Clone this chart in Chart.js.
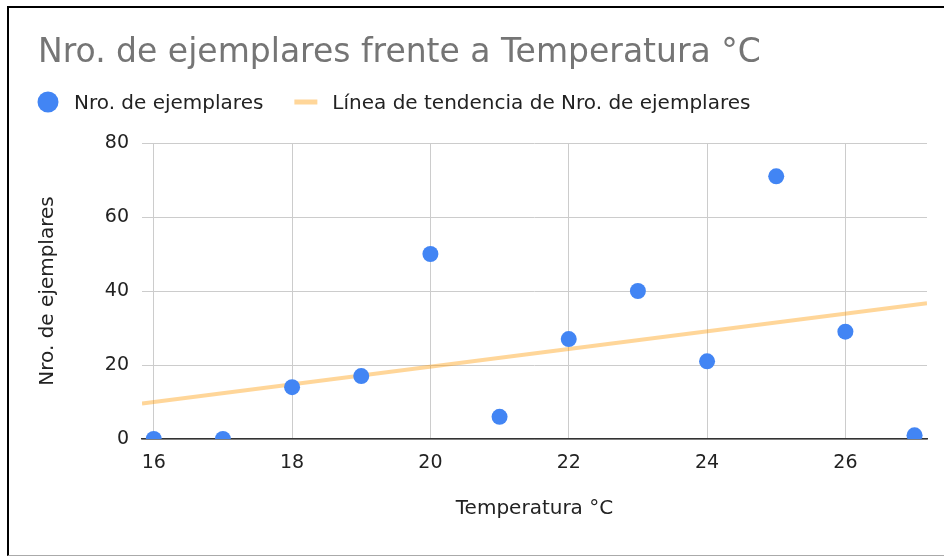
<!DOCTYPE html>
<html>
<head>
<meta charset="utf-8">
<script src="https://cdn.jsdelivr.net/npm/chart.js@4.4.1/dist/chart.umd.min.js"></script>
<style>
  html, body { margin: 0; padding: 0; background: #fff; }
  #wrap { position: relative; width: 944px; height: 556px; overflow: hidden; }
  #frame { position: absolute; left: 7px; top: 6px; width: 950px; height: 547px;
           border-left: 2px solid #000; border-top: 2px solid #000; border-bottom: 1px solid #aaa; }
  #c { position: absolute; left: 0; top: 0; }
</style>
</head>
<body>
<div id="wrap">
  <div id="frame"></div>
  <canvas id="c" width="944" height="556"></canvas>
</div>
<script>
// ---- data ----
const chartTitle = 'Nro. de ejemplares frente a Temperatura °C';
const seriesLabel = 'Nro. de ejemplares';
const trendLabel = 'Línea de tendencia de Nro. de ejemplares';
const xAxisTitle = 'Temperatura °C';
const yAxisTitle = 'Nro. de ejemplares';
const temperatures = [16, 17, 18, 19, 20, 21, 22, 23, 24, 25, 26, 27];
const specimens    = [0, 0, 14, 17, 50, 6, 27, 40, 21, 71, 29, 1];
const trendX = [15.83, 27.18];
const trendY = [9.6, 36.7];
const xTicks = [16, 18, 20, 22, 24, 26];
const yTicks = [0, 20, 40, 60, 80];

const seriesColor = '#4285F4';
const trendColor = 'rgba(255,153,0,0.4)';
const FONT = '"DejaVu Sans", "Liberation Sans", Arial, sans-serif';

const titleLegendPlugin = {
  id: 'titleLegend',
  afterDraw(chart) {
    const ctx = chart.ctx;
    ctx.save();
    ctx.textBaseline = 'alphabetic';
    ctx.textAlign = 'left';
    ctx.font = '33px ' + FONT;
    ctx.fillStyle = '#757575';
    ctx.fillText(chartTitle, 38, 62);

    ctx.font = '20px ' + FONT;
    const cy = 102;
    ctx.fillStyle = seriesColor;
    ctx.beginPath();
    ctx.arc(48, cy, 10.5, 0, Math.PI * 2);
    ctx.fill();
    ctx.fillStyle = '#222';
    let x = 74;
    ctx.fillText(seriesLabel, x, 109);
    x += ctx.measureText(seriesLabel).width + 31;
    ctx.strokeStyle = trendColor;
    ctx.lineWidth = 5;
    ctx.beginPath();
    ctx.moveTo(x, cy);
    ctx.lineTo(x + 23, cy);
    ctx.stroke();
    x += 23 + 15;
    ctx.fillStyle = '#222';
    ctx.fillText(trendLabel, x, 109);
    ctx.restore();
  }
};

new Chart(document.getElementById('c'), {
  type: 'scatter',
  data: {
    datasets: [
      {
        label: seriesLabel,
        data: temperatures.map((t, i) => ({ x: t, y: specimens[i] })),
        backgroundColor: seriesColor,
        borderColor: seriesColor,
        borderWidth: 0,
        pointRadius: 8,
        pointHoverRadius: 8,
        clip: 0
      },
      {
        type: 'line',
        label: trendLabel,
        data: trendX.map((t, i) => ({ x: t, y: trendY[i] })),
        borderColor: trendColor,
        borderWidth: 4,
        pointRadius: 0,
        fill: false,
        showLine: true,
        clip: 0
      }
    ]
  },
  options: {
    responsive: false,
    animation: false,
    devicePixelRatio: 1,
    layout: { padding: { left: 30, right: 17, top: 143, bottom: 20 } },
    plugins: {
      legend: { display: false },
      title: { display: false },
      tooltip: { enabled: false }
    },
    scales: {
      x: {
        type: 'linear',
        min: trendX[0],
        max: trendX[1],
        afterBuildTicks: s => { s.ticks = xTicks.map(v => ({ value: v })); },
        afterFit: s => { s.height = 97; },
        ticks: { font: { family: FONT, size: 19 }, color: '#222', padding: 13 },
        grid: { color: '#cccccc', drawTicks: false },
        border: { display: true, color: '#333', width: 1.5 },
        title: { display: true, text: xAxisTitle, color: '#222',
                 font: { family: FONT, size: 20 }, padding: { bottom: 15 } }
      },
      y: {
        min: yTicks[0],
        max: yTicks[yTicks.length - 1],
        afterBuildTicks: s => { s.ticks = yTicks.map(v => ({ value: v })); },
        afterFit: s => { s.width = 112; },
        ticks: { font: { family: FONT, size: 19 }, color: '#222', padding: 13 },
        grid: { color: '#cccccc', drawTicks: false },
        border: { display: false },
        title: { display: true, text: yAxisTitle, color: '#222',
                 font: { family: FONT, size: 20 }, padding: { top: 6 } }
      }
    }
  },
  plugins: [titleLegendPlugin]
});
</script>
</body>
</html>
